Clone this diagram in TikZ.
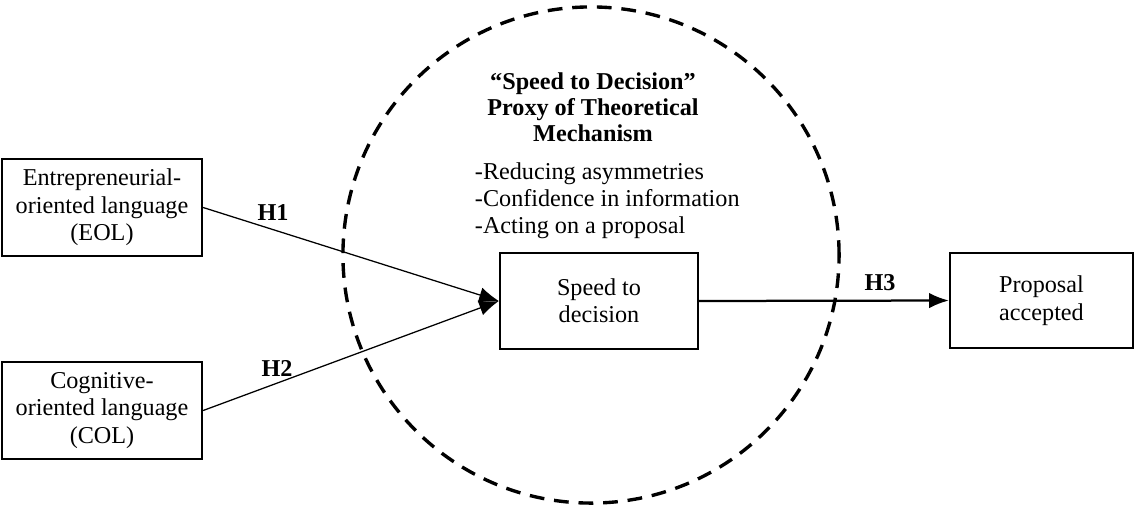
\documentclass[tikz,border=0pt]{standalone}
\usepackage{fontspec}
\setmainfont{Liberation Serif}
\usetikzlibrary{arrows.meta}

\begin{document}
\begin{tikzpicture}[x=0.025cm,y=-0.025cm]

\tikzset{box/.style = {shape=rectangle,draw,line width=1.6pt,align=center,font=\fontsize{17.2}{19.5}\selectfont}}
\tikzset{edge/.style = {-{Latex[length=14pt,width=11pt]},line width=0.9pt}}
\tikzset{hyp/.style = {font=\bfseries\fontsize{17.2}{19.5}\selectfont}}
\useasboundingbox (0,0) rectangle (1135,508);
%mechanism
\node[circle,draw,line width=2.4pt,dash pattern=on 10.5pt off 7pt,minimum size=12.4cm] (mech) at (591,255) {};
\node[font=\bfseries\fontsize{17.2}{18.5}\selectfont,align=center] (title) at (593,107) {“Speed to Decision”\\Proxy of Theoretical\\Mechanism};
\node[font=\fontsize{17.2}{19.2}\selectfont,align=left,anchor=west] (list) at (470,201) {-Reducing asymmetries\\-Confidence in information\\-Acting on a proposal};
%verticies
\node[box,minimum width=5cm,minimum height=2.425cm] (eol) at (102,207.5) {Entrepreneurial-\\oriented language\\(EOL)};
\node[box,minimum width=5cm,minimum height=2.425cm] (col) at (102,410.5) {Cognitive-\\oriented language\\(COL)};
\node[box,minimum width=4.95cm,minimum height=2.4cm] (speed) at (599,301) {Speed to\\decision};
\node[box,minimum width=4.575cm,minimum height=2.375cm] (accept) at (1041.5,300.5) {Proposal\\accepted};
%edges
\draw[edge] (eol.east) -- (speed.west);
\draw[edge] (col.east) -- (speed.west);
\draw[edge,line width=1.6pt] (speed.east) -- (accept.west);
\node[hyp] (h1) at (273,213) {H1};
\node[hyp] (h2) at (277,368) {H2};
\node[hyp] (h3) at (880,283) {H3};

\end{tikzpicture}
\end{document}
